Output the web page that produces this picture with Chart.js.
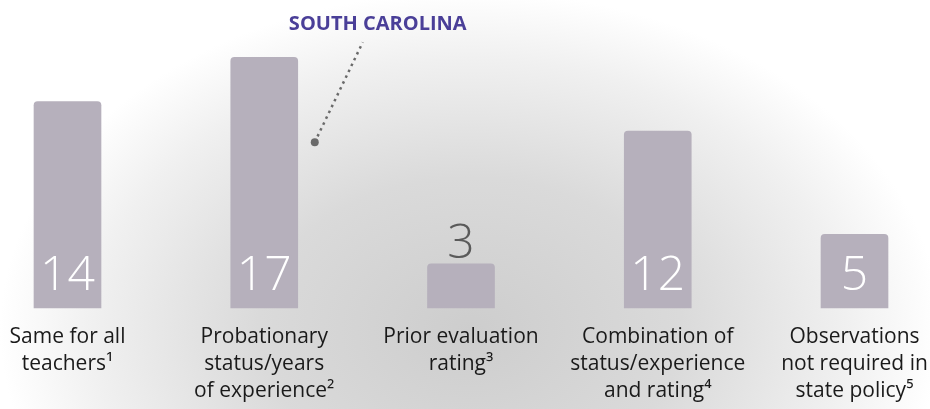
<!DOCTYPE html>
<html lang="en">
<head>
<meta charset="UTF-8">
<title>Observation frequency by state policy</title>
<script src="https://cdn.jsdelivr.net/npm/chart.js"></script>
<style>
  html, body { margin: 0; padding: 0; background: #fff; }
  #wrap { position: relative; width: 930px; height: 409px; }
</style>
</head>
<body>
<div id="wrap"><canvas id="chart" width="930" height="409"></canvas></div>
<script>
// Categories (multi-line labels with footnote marks)
const categories = [
  ['Same for all', 'teachers\u00B9'],
  ['Probationary', 'status/years', 'of experience\u00B2'],
  ['Prior evaluation', 'rating\u00B3'],
  ['Combination of', 'status/experience', 'and rating\u2074'],
  ['Observations', 'not required in', 'state policy\u2075']
];
// Number of states in each group
const stateCounts = [14, 17, 3, 12, 5];
// Callout pointing at the group that contains the highlighted state
const calloutLabel = 'SOUTH CAROLINA';
const calloutIndex = 1;

const BAR_COLOR = '#b6b0bc';
const FONT = '"Open Sans", "Noto Sans", sans-serif';

// soft grey glow behind the bars
const haze = {
  id: 'haze',
  beforeDraw(chart) {
    const ctx = chart.ctx;
    const w = chart.width, h = chart.height;
    ctx.save();
    ctx.fillStyle = '#fff';
    ctx.fillRect(0, 0, w, h);
    ctx.translate(470, 330);
    ctx.scale(1, 0.72);
    const g = ctx.createRadialGradient(0, 0, 0, 0, 0, 470);
    g.addColorStop(0, 'rgba(205,205,205,1)');
    g.addColorStop(0.45, 'rgba(218,218,218,1)');
    g.addColorStop(0.8, 'rgba(240,240,240,1)');
    g.addColorStop(1, 'rgba(255,255,255,1)');
    ctx.fillStyle = g;
    ctx.fillRect(-w, -h * 2, w * 2, h * 4);
    ctx.restore();
  }
};

// big numbers inside the bars (or above, if the bar is too short)
const valueLabels = {
  id: 'valueLabels',
  afterDatasetsDraw(chart) {
    const ctx = chart.ctx;
    const meta = chart.getDatasetMeta(0);
    ctx.save();
    ctx.font = '300 48px ' + FONT;
    ctx.textAlign = 'center';
    ctx.textBaseline = 'alphabetic';
    meta.data.forEach((bar, i) => {
      const txt = String(stateCounts[i]);
      const h = bar.base - bar.y;
      if (h > 60) {
        ctx.fillStyle = '#ffffff';
        ctx.fillText(txt, bar.x, bar.base - 18);
      } else {
        ctx.fillStyle = '#5a5a5a';
        ctx.fillText(txt, bar.x, bar.y - 6);
      }
    });
    ctx.restore();
  }
};

// dotted leader line + state name
const callout = {
  id: 'callout',
  afterDraw(chart) {
    const ctx = chart.ctx;
    const bar = chart.getDatasetMeta(0).data[calloutIndex];
    const dx = bar.x + bar.width / 2 + 17;
    const dy = bar.y + 85;
    ctx.save();
    ctx.strokeStyle = '#6a6a6a';
    ctx.lineWidth = 2.5;
    ctx.setLineDash([2.5, 4]);
    ctx.beginPath();
    ctx.moveTo(dx, dy);
    ctx.lineTo(dx + 48, dy - 100);
    ctx.stroke();
    ctx.setLineDash([]);
    ctx.fillStyle = '#6a6a6a';
    ctx.beginPath();
    ctx.arc(dx, dy, 4, 0, Math.PI * 2);
    ctx.fill();
    ctx.fillStyle = '#4a3f98';
    ctx.font = 'bold 20px ' + FONT;
    ctx.textAlign = 'center';
    ctx.textBaseline = 'alphabetic';
    ctx.fillText(calloutLabel, dx + 63, dy - 112);
    ctx.restore();
  }
};

new Chart(document.getElementById('chart'), {
  type: 'bar',
  data: {
    labels: categories,
    datasets: [{
      data: stateCounts,
      backgroundColor: BAR_COLOR,
      borderSkipped: 'bottom',
      borderRadius: { topLeft: 4, topRight: 4, bottomLeft: 0, bottomRight: 0 },
      barThickness: 67,
      clip: false
    }]
  },
  options: {
    responsive: false,
    animation: false,
    devicePixelRatio: 1,
    layout: { padding: { left: 67.5, right: 75.5, top: 13, bottom: 0 } },
    plugins: {
      legend: { display: false },
      tooltip: { enabled: false }
    },
    scales: {
      x: {
        offset: false,
        grid: { display: false, drawTicks: false },
        border: { display: false },
        ticks: {
          color: '#1a1a1a',
          font: { family: FONT, size: 21, lineHeight: 1.286 },
          padding: 15.5,
          maxRotation: 0,
          autoSkip: false
        },
        afterFit(scale) {
          // labels may hang past the plot edges; keep the layout padding as set
          scale.height = 101;
          scale.paddingLeft = 0;
          scale.paddingRight = 0;
        }
      },
      y: {
        display: false,
        min: 0,
        max: 20
      }
    }
  },
  plugins: [haze, valueLabels, callout]
});
</script>
</body>
</html>
